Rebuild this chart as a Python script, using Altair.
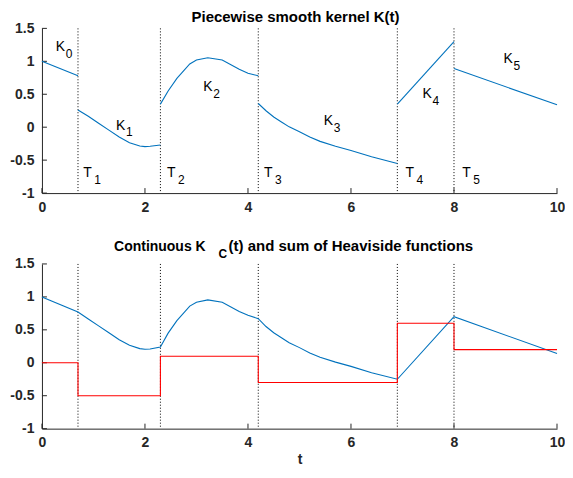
import altair as alt
import pandas as pd

# ---------------- data ----------------
BREAKS = [0.7, 2.3, 4.2, 6.9, 8.0]
X_TICKS = [0, 2, 4, 6, 8, 10]
Y_TICKS = [-1, -0.5, 0, 0.5, 1, 1.5]

K0_T = [0.0, 0.7]
K0_V = [1.0, 0.78]
K1_T = [0.7, 0.9, 1.1, 1.3, 1.5, 1.7, 1.9, 2.0, 2.1, 2.3]
K1_V = [0.26, 0.165, 0.06, -0.045, -0.15, -0.235, -0.285, -0.295, -0.29, -0.27]
K2_T = [2.3, 2.45, 2.62, 2.87, 3.0, 3.22, 3.5, 3.83, 4.0, 4.2]
K2_V = [0.35, 0.55, 0.74, 0.96, 1.02, 1.055, 1.02, 0.88, 0.82, 0.78]
K3_T = [4.2, 4.35, 4.5, 4.65, 4.8, 5.0, 5.2, 5.4, 5.7, 6.0, 6.4, 6.9]
K3_V = [0.36, 0.25, 0.155, 0.08, 0.005, -0.07, -0.15, -0.215, -0.29, -0.355, -0.45, -0.55]
K4_T = [6.9, 8.0]
K4_V = [0.35, 1.3]
K5_T = [8.0, 10.0]
K5_V = [0.89, 0.34]

KC_T = [0, 0.7, 0.9, 1.1, 1.3, 1.5, 1.7, 1.9, 2.0, 2.1, 2.3, 2.45, 2.62, 2.87, 3.0,
        3.22, 3.5, 3.83, 4.0, 4.2, 4.35, 4.5, 4.65, 4.8, 5.0, 5.2, 5.4, 5.7, 6.0,
        6.4, 6.9, 8.0, 10.0]
KC_V = [1.0, 0.77, 0.665, 0.56, 0.455, 0.35, 0.265, 0.215, 0.205, 0.21, 0.24, 0.45,
        0.64, 0.86, 0.92, 0.955, 0.92, 0.78, 0.72, 0.67, 0.55, 0.455, 0.38, 0.305,
        0.23, 0.15, 0.085, 0.01, -0.055, -0.15, -0.25, 0.7, 0.14]

H_T = [0, 0.7, 2.3, 4.2, 6.9, 8.0, 10.0]
H_V = [0, -0.5, 0.1, -0.3, 0.6, 0.2, 0.2]

LBL_MAIN = ["K", "K", "K", "K", "K", "K", "T", "T", "T", "T", "T"]
LBL_SUB = ["0", "1", "2", "3", "4", "5", "1", "2", "3", "4", "5"]
LBL_T = [0.27, 1.44, 3.13, 5.47, 7.39, 8.96, 0.8, 2.43, 4.31, 7.06, 8.16]
LBL_V = [1.15, -0.035, 0.55, 0.04, 0.45, 0.97, -0.76, -0.76, -0.76, -0.76, -0.76]

TITLE_TOP = "Piecewise smooth kernel K(t)"
TITLE_BOT = ["Continuous K", "C", "(t) and sum of Heaviside functions"]

# ---------------- tables ----------------
segs = []
for i, (ts, vs) in enumerate([(K0_T, K0_V), (K1_T, K1_V), (K2_T, K2_V),
                              (K3_T, K3_V), (K4_T, K4_V), (K5_T, K5_V)]):
    for t, v in zip(ts, vs):
        segs.append({"t": t, "v": v, "seg": i})
k_df = pd.DataFrame(segs)
kc_df = pd.DataFrame({"t": KC_T, "v": KC_V})
h_df = pd.DataFrame({"t": H_T, "v": H_V})
br_df = pd.DataFrame({"t": BREAKS})
xt_df = pd.DataFrame({"t": X_TICKS})
yt_df = pd.DataFrame({"v": Y_TICKS})
lbl_df = pd.DataFrame({"t": LBL_T, "v": LBL_V, "main": LBL_MAIN, "sub": LBL_SUB})

W, H = 516, 165
FONT = "Liberation Sans"
AXC = "#262626"
BLUE = "#0072BD"
RED = "#FF0000"


def xenc(title=None):
    return alt.X("t:Q", scale=alt.Scale(domain=[0, 10], nice=False, zero=False),
                 axis=alt.Axis(values=X_TICKS, ticks=False, grid=False, labelFlush=False,
                               labelExpr="'' + datum.value", labelFontSize=14,
                               labelFontWeight="bold", labelColor=AXC,
                               domainColor=AXC, labelPadding=7,
                               title=title, titleFontSize=14, titleFontWeight="bold",
                               titleColor=AXC, titlePadding=3))


def yenc():
    return alt.Y("v:Q", scale=alt.Scale(domain=[-1, 1.5], nice=False, zero=False),
                 axis=alt.Axis(values=Y_TICKS, ticks=False, grid=False,
                               labelExpr="'' + datum.value", labelFontSize=14,
                               labelFontWeight="bold", labelColor=AXC,
                               domainColor=AXC, labelPadding=8, title=None))


def frame_layers(xt=None):
    X = xenc(xt)
    Y = yenc()
    dots = alt.Chart(br_df).mark_rule(color="black", strokeDash=[1, 2], strokeWidth=1).encode(x=X)
    xt_r = alt.Chart(xt_df).mark_rule(color=AXC, strokeWidth=1).encode(
        x=X, y=alt.value(H), y2=alt.value(H - 5))
    yt_r = alt.Chart(yt_df).mark_rule(color=AXC, strokeWidth=1).encode(
        y=Y, x=alt.value(0), x2=alt.value(5))
    return X, Y, [dots, xt_r, yt_r]


# top panel
X, Y, fr = frame_layers()
k_line = alt.Chart(k_df).mark_line(color=BLUE, strokeWidth=1.1).encode(
    x=X, y=Y, detail="seg:N", order="t:Q")
lbl_main = alt.Chart(lbl_df).mark_text(font=FONT, fontSize=14, align="left",
                                       baseline="alphabetic", color="black").encode(
    x=X, y=Y, text="main:N")
lbl_sub_k = alt.Chart(lbl_df[lbl_df["main"] == "K"]).mark_text(
    font=FONT, fontSize=12, align="left", baseline="alphabetic", color="black",
    dx=10, dy=7).encode(x=X, y=Y, text="sub:N")
lbl_sub_t = alt.Chart(lbl_df[lbl_df["main"] == "T"]).mark_text(
    font=FONT, fontSize=12, align="left", baseline="alphabetic", color="black",
    dx=11, dy=7).encode(x=X, y=Y, text="sub:N")
title_top = alt.Chart(pd.DataFrame({"s": [TITLE_TOP]})).mark_text(
    font=FONT, fontSize=15, fontWeight="bold", align="center", baseline="alphabetic",
    color="black").encode(x=alt.value(254), y=alt.value(-6), text="s:N")
top = alt.layer(*fr, k_line, lbl_main, lbl_sub_k, lbl_sub_t, title_top).properties(
    width=W, height=H)

# bottom panel
X2, Y2, fr2 = frame_layers("t")
kc_line = alt.Chart(kc_df).mark_line(color=BLUE, strokeWidth=1.1).encode(
    x=X2, y=Y2, order="t:Q")
h_line = alt.Chart(h_df).mark_line(color=RED, strokeWidth=1.1, interpolate="step-after").encode(
    x=X2, y=Y2, order="t:Q")
tb = pd.DataFrame({"s": TITLE_BOT})
t1 = alt.Chart(tb.iloc[[0]]).mark_text(font=FONT, fontSize=14, fontWeight="bold",
                                       align="right", baseline="alphabetic", color="black").encode(
    x=alt.value(164), y=alt.value(-13), text="s:N")
t2 = alt.Chart(tb.iloc[[1]]).mark_text(font=FONT, fontSize=12, fontWeight="bold",
                                       align="left", baseline="alphabetic", color="black").encode(
    x=alt.value(177), y=alt.value(-6), text="s:N")
t3 = alt.Chart(tb.iloc[[2]]).mark_text(font=FONT, fontSize=15, fontWeight="bold",
                                       align="left", baseline="alphabetic", color="black").encode(
    x=alt.value(187), y=alt.value(-13), text="s:N")
bottom = alt.layer(*fr2, kc_line, h_line, t1, t2, t3).properties(width=W, height=H)

chart = alt.vconcat(top, bottom, spacing=25).properties(
    padding={"left": 1, "top": 2, "right": 0, "bottom": 0}
).configure(font=FONT).configure_view(stroke=None)

chart.save("out.html", embed_options={"renderer": "svg", "actions": False})
